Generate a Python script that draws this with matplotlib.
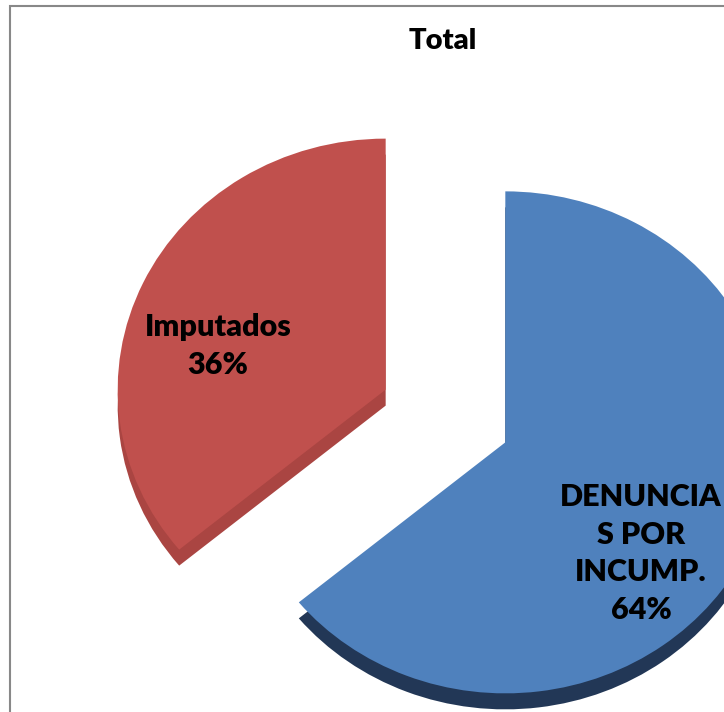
import matplotlib.pyplot as plt
from matplotlib.patches import Rectangle

# datos
categorias = ["Imputados", "DENUNCIAS POR INCUMP."]
etiquetas = ["Imputados", "DENUNCIA\nS POR\nINCUMP."]
valores = [36, 64]

colores = ["#C0504D", "#4F81BD"]
colores_lado = ["#AA4542", "#223756"]

W, H = 724, 712
RX, RY = 268, 251          # semiejes de la elipse (px)
PROF = 16                  # grosor 3D (px)

plt.rcParams['font.family'] = ['Lato', 'DejaVu Sans']

fig = plt.figure(figsize=(W / 100, H / 100), dpi=100)
ax = fig.add_axes([0, 0, 1, 1])

centro = (1.6623, 1.1793)
expl = [0.2467] * len(valores)

# cara lateral (desplazada hacia abajo) y cara superior
ax.pie(valores, colors=colores_lado, startangle=90, explode=expl,
       center=(centro[0], centro[1] - PROF / RY), radius=1, frame=True,
       wedgeprops=dict(linewidth=0))
ax.pie(valores, colors=colores, startangle=90, explode=expl,
       center=centro, radius=1, frame=True,
       wedgeprops=dict(linewidth=0))

ax.set_aspect('auto')
ax.set_xlim(0, W / RX)
ax.set_ylim(0, H / RY)
ax.axis('off')

# etiquetas
total = sum(valores)
pos_etq = [(218, 374), (641, 619)]   # centro x, linea base de la ultima linea (px)
for etq, v, (px, py) in zip(etiquetas, valores, pos_etq):
    fig.text(px / W, 1 - py / H, f"{etq}\n{v / total * 100:.0f}%",
             ha='center', va='baseline', multialignment='center',
             fontsize=22, fontweight='heavy', linespacing=1.42, color='black')

fig.text(443 / W, 1 - 49 / H, "Total", ha='center', va='baseline',
         fontsize=21, fontweight='heavy')

# marco del grafico
fig.add_artist(Rectangle((10 / W, -0.1), 1.2, 1.1 - 6 / H, transform=fig.transFigure,
                         fill=False, edgecolor='#888888', linewidth=1.5))

fig.savefig('out.png', dpi=100)
